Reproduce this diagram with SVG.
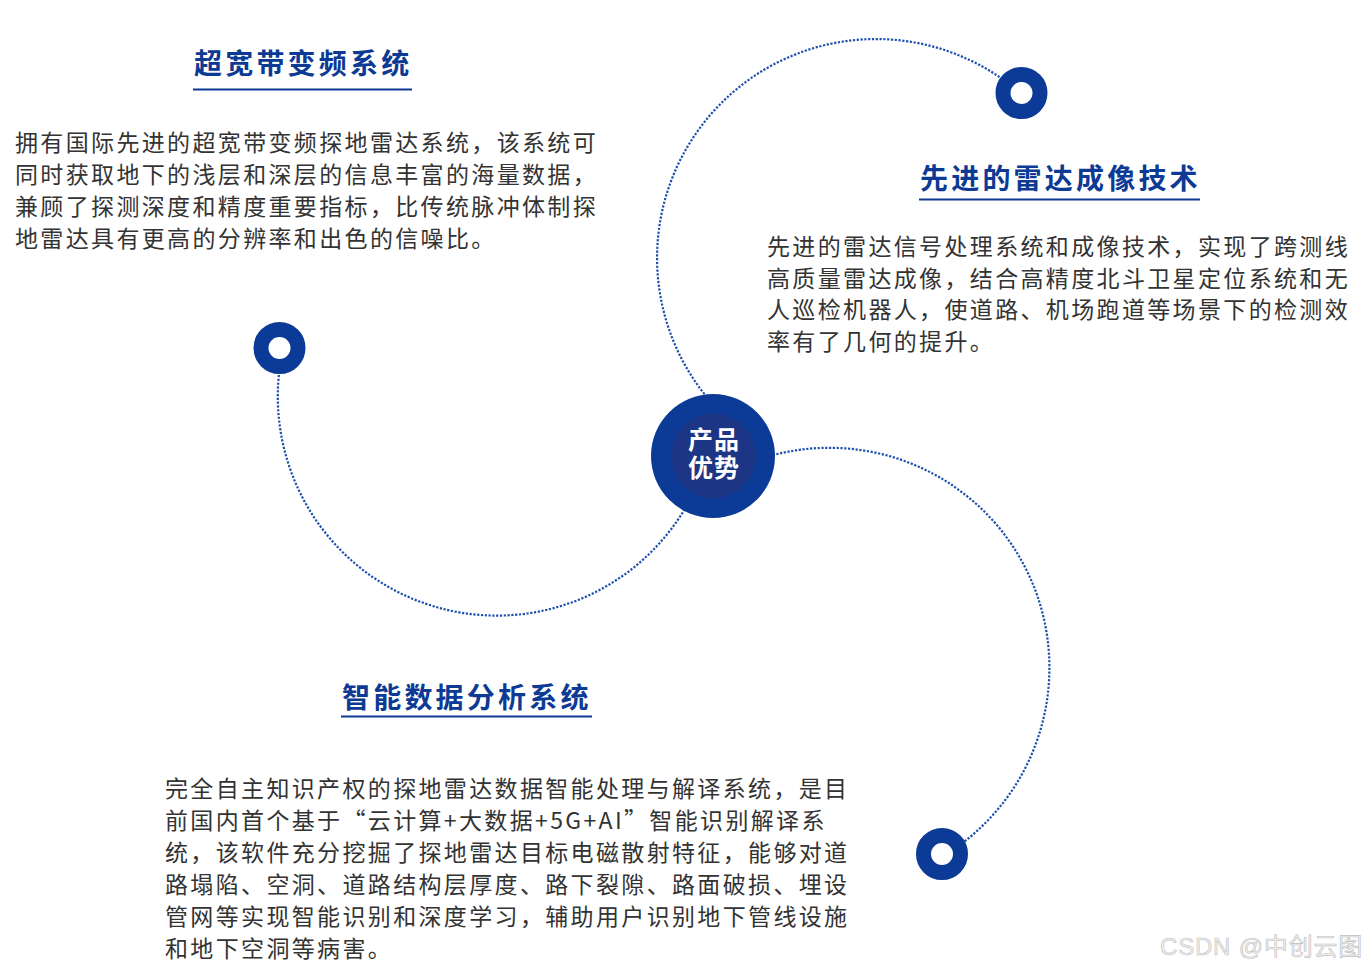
<svg xmlns="http://www.w3.org/2000/svg" width="1370" height="970" viewBox="0 0 1370 970">
<style>
.arc{fill:none;stroke:#1d4fae;stroke-width:2.2;stroke-dasharray:2.2 1.6}
.ring{fill:#ffffff;stroke:#0b3b96;stroke-width:15}
.title{font-family:"Noto Sans CJK SC","Noto Sans",sans-serif;font-weight:700;font-size:28px;fill:#0c3a94;letter-spacing:3.2px}
.uline{stroke:#0c3a94;stroke-width:2.2}
.body{font-family:"Noto Sans CJK SC","Noto Sans",sans-serif;font-size:23px;fill:#333333;letter-spacing:2.35px}
.center{font-family:"Noto Sans CJK SC","Noto Sans",sans-serif;font-weight:700;font-size:25px;fill:#ffffff;letter-spacing:1px}
.wm{font-family:"Liberation Sans","Noto Sans CJK SC",sans-serif;font-size:24px;fill:#f0f0f0;stroke:#bfbfbf;stroke-width:0.6;letter-spacing:0.8px}
</style>
<rect width="1370" height="970" fill="#ffffff"/>
<g id="connectors">
<path class="arc" d="M 1020.5 93.4 A 219 219 0 1 0 737 427.2"/>
<path class="arc" d="M 723.4 475 A 220 220 0 0 1 943.3 856"/>
<path class="arc" d="M 283.1 348.8 A 219 219 0 0 0 708 454.6"/>
</g>
<g id="node-center">
<circle cx="713" cy="456" r="62" fill="#0b3b96"/>
<circle cx="713.5" cy="456" r="42.5" fill="#1c3585"/>
<text class="center" text-anchor="middle"><tspan x="714" y="448.5">产品</tspan><tspan x="714" y="477">优势</tspan></text>
</g>
<g id="dot-top-right"><circle class="ring" cx="1021.5" cy="93" r="18.5"/></g>
<g id="dot-left"><circle class="ring" cx="279.5" cy="348" r="18.5"/></g>
<g id="dot-bottom-right"><circle class="ring" cx="942" cy="854" r="18.5"/></g>
<g id="node-uwb">
<text class="title" x="194" y="73.5">超宽带变频系统</text>
<line class="uline" x1="193" y1="89.5" x2="412" y2="89.5"/>
<text class="body" x="15" y="150.5">拥有国际先进的超宽带变频探地雷达系统，该系统可</text>
<text class="body" x="15" y="182.5">同时获取地下的浅层和深层的信息丰富的海量数据，</text>
<text class="body" x="15" y="214.5">兼顾了探测深度和精度重要指标，比传统脉冲体制探</text>
<text class="body" x="15" y="246.5">地雷达具有更高的分辨率和出色的信噪比。</text>
</g>
<g id="node-imaging">
<text class="title" x="920" y="188.5">先进的雷达成像技术</text>
<line class="uline" x1="919" y1="199.5" x2="1200" y2="199.5"/>
<text class="body" x="767" y="254.5">先进的雷达信号处理系统和成像技术，实现了跨测线</text>
<text class="body" x="767" y="286.5">高质量雷达成像，结合高精度北斗卫星定位系统和无</text>
<text class="body" x="767" y="318">人巡检机器人，使道路、机场跑道等场景下的检测效</text>
<text class="body" x="767" y="350">率有了几何的提升。</text>
</g>
<g id="node-analysis">
<text class="title" x="342" y="707.5">智能数据分析系统</text>
<line class="uline" x1="341" y1="716.5" x2="592" y2="716.5"/>
<text class="body" x="165" y="797">完全自主知识产权的探地雷达数据智能处理与解译系统，是目</text>
<text class="body" x="165" y="829">前国内首个基于“云计算+大数据+5G+AI”智能识别解译系</text>
<text class="body" x="165" y="861">统，该软件充分挖掘了探地雷达目标电磁散射特征，能够对道</text>
<text class="body" x="165" y="893">路塌陷、空洞、道路结构层厚度、路下裂隙、路面破损、埋设</text>
<text class="body" x="165" y="925">管网等实现智能识别和深度学习，辅助用户识别地下管线设施</text>
<text class="body" x="165" y="957">和地下空洞等病害。</text>
</g>
<text class="wm" x="1160" y="955">CSDN @中创云图</text>
</svg>
